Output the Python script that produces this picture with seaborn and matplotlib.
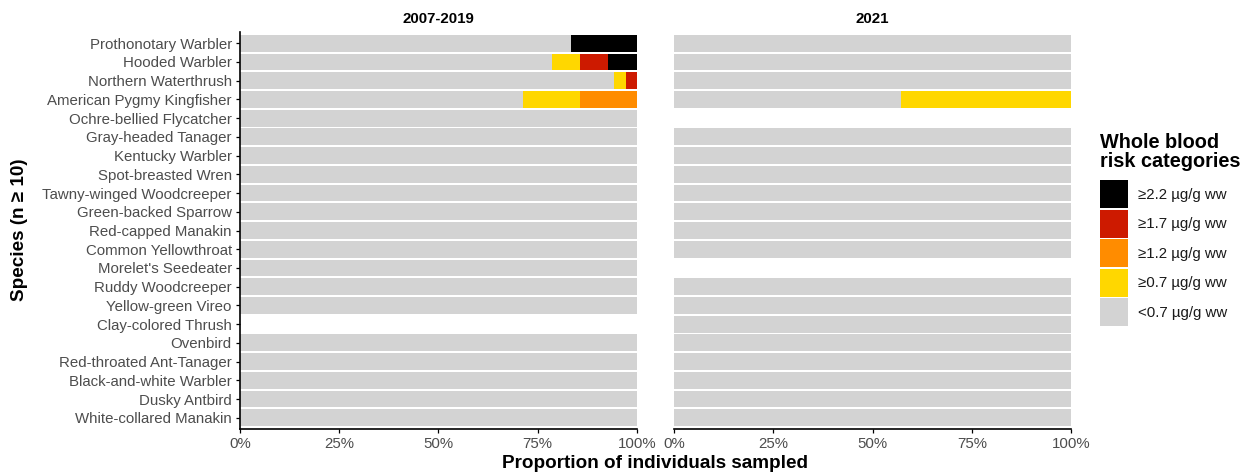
import numpy as np
import pandas as pd
import seaborn as sns
import matplotlib.pyplot as plt
from matplotlib.patches import Patch
from matplotlib.ticker import PercentFormatter

sns.set_theme(style="white")
plt.rcParams["font.family"] = ["Liberation Sans", "DejaVu Sans"]

nan = np.nan

species = [
    "Prothonotary Warbler", "Hooded Warbler", "Northern Waterthrush",
    "American Pygmy Kingfisher", "Ochre-bellied Flycatcher", "Gray-headed Tanager",
    "Kentucky Warbler", "Spot-breasted Wren", "Tawny-winged Woodcreeper",
    "Green-backed Sparrow", "Red-capped Manakin", "Common Yellowthroat",
    "Morelet's Seedeater", "Ruddy Woodcreeper", "Yellow-green Vireo",
    "Clay-colored Thrush", "Ovenbird", "Red-throated Ant-Tanager",
    "Black-and-white Warbler", "Dusky Antbird", "White-collared Manakin",
]

# risk categories, lowest to highest
categories = ["<0.7 µg/g ww", "≥0.7 µg/g ww", "≥1.2 µg/g ww", "≥1.7 µg/g ww", "≥2.2 µg/g ww"]
cat_colors = ["#D3D3D3", "#FFD700", "#FF8C00", "#CD1A00", "#000000"]

# percent of individuals in each category, 2007-2019 (nan = not sampled)
p0719_lt07 = [83.3, 78.6, 94.3, 71.4, 100, 100, 100, 100, 100, 100, 100, 100, 100, 100, 100, nan, 100, 100, 100, 100, 100]
p0719_ge07 = [0, 7.1, 2.85, 14.3, 0, 0, 0, 0, 0, 0, 0, 0, 0, 0, 0, nan, 0, 0, 0, 0, 0]
p0719_ge12 = [0, 0, 0, 14.3, 0, 0, 0, 0, 0, 0, 0, 0, 0, 0, 0, nan, 0, 0, 0, 0, 0]
p0719_ge17 = [0, 7.1, 2.85, 0, 0, 0, 0, 0, 0, 0, 0, 0, 0, 0, 0, nan, 0, 0, 0, 0, 0]
p0719_ge22 = [16.7, 7.2, 0, 0, 0, 0, 0, 0, 0, 0, 0, 0, 0, 0, 0, nan, 0, 0, 0, 0, 0]

# percent of individuals in each category, 2021
p2021_lt07 = [100, 100, 100, 57.1, nan, 100, 100, 100, 100, 100, 100, 100, nan, 100, 100, 100, 100, 100, 100, 100, 100]
p2021_ge07 = [0, 0, 0, 42.9, nan, 0, 0, 0, 0, 0, 0, 0, nan, 0, 0, 0, 0, 0, 0, 0, 0]
p2021_ge12 = [0, 0, 0, 0, nan, 0, 0, 0, 0, 0, 0, 0, nan, 0, 0, 0, 0, 0, 0, 0, 0]
p2021_ge17 = [0, 0, 0, 0, nan, 0, 0, 0, 0, 0, 0, 0, nan, 0, 0, 0, 0, 0, 0, 0, 0]
p2021_ge22 = [0, 0, 0, 0, nan, 0, 0, 0, 0, 0, 0, 0, nan, 0, 0, 0, 0, 0, 0, 0, 0]

panels = [
    ("2007-2019", [p0719_lt07, p0719_ge07, p0719_ge12, p0719_ge17, p0719_ge22]),
    ("2021", [p2021_lt07, p2021_ge07, p2021_ge12, p2021_ge17, p2021_ge22]),
]

W, H = 1244, 475
fig = plt.figure(figsize=(W / 100, H / 100), dpi=100)
ax_left = fig.add_axes([240 / W, 1 - 429 / H, 397 / W, 397 / H])
ax_right = fig.add_axes([674 / W, 1 - 429 / H, 397 / W, 397 / H])

TICK_GRAY = "#4D4D4D"


def draw_panel(ax, title, shares):
    df = pd.DataFrame({"species": species})
    cum = np.zeros(len(species))
    for k, vals in enumerate(shares):
        cum = cum + np.asarray(vals, dtype=float)
        df[f"c{k}"] = cum
    df = df.dropna()
    # stacked bars: draw the cumulative totals from the highest category down
    for k in reversed(range(len(shares))):
        sns.barplot(data=df, x=f"c{k}", y="species", order=species, orient="h",
                    color=cat_colors[k], saturation=1, width=0.9, errorbar=None,
                    linewidth=0, edgecolor="none", ax=ax)
    ax.set_xlim(0, 100)
    ax.set_ylim(len(species) - 1 + 0.6, -0.6)
    ax.set_xticks([0, 25, 50, 75, 100])
    ax.xaxis.set_major_formatter(PercentFormatter(xmax=100, decimals=0))
    ax.set_xlabel("")
    ax.set_ylabel("")
    ax.tick_params(axis="both", bottom=True, left=True, length=2.9, width=0.9,
                   color="black", labelsize=10.8, labelcolor=TICK_GRAY, pad=3)
    for side in ("top", "right"):
        ax.spines[side].set_visible(False)
    for side in ("left", "bottom"):
        ax.spines[side].set_color("black")
        ax.spines[side].set_linewidth(1.2)
    ax.set_title(title, fontsize=10.8, fontweight="bold", color="black", pad=6.5)


draw_panel(ax_left, *panels[0])
draw_panel(ax_right, *panels[1])
ax_right.spines["left"].set_visible(False)
ax_right.tick_params(axis="y", left=False, labelleft=False)

fig.text(655 / W, 1 - 463 / H, "Proportion of individuals sampled", ha="center",
         va="center", fontsize=13.6, fontweight="bold", color="black")
fig.text(20 / W, 1 - 230 / H, "Species (n ≥ 10)", ha="center", va="center",
         rotation=90, fontsize=13.6, fontweight="bold", color="black")

# legend
fig.text(1100 / W, 1 - 133 / H, "Whole blood\nrisk categories", ha="left", va="top",
         fontsize=14.3, fontweight="bold", color="black", linespacing=1.03)
handles = [Patch(facecolor=c, edgecolor="none") for c in reversed(cat_colors)]
labels = list(reversed(categories))
fig.legend(handles, labels, loc="upper left", bbox_to_anchor=(1100 / W, 1 - 180 / H),
           frameon=False, fontsize=10.8, handlelength=1.87, handleheight=2.5,
           labelspacing=0.1, handletextpad=0.67, borderpad=0, borderaxespad=0,
           labelcolor="#1A1A1A")

fig.savefig("out.png", dpi=100)
